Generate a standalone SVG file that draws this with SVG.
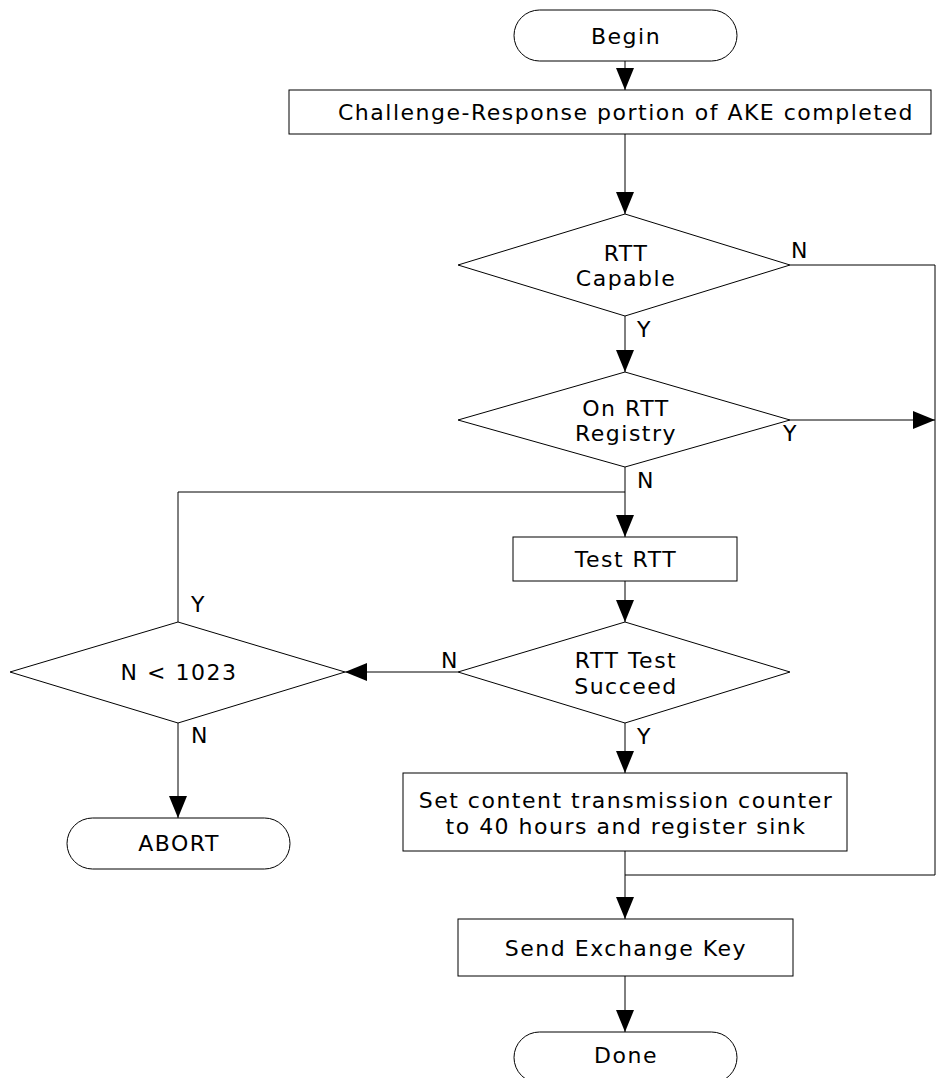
<svg xmlns="http://www.w3.org/2000/svg" width="950" height="1078" viewBox="0 0 950 1078">
<style>
.s{fill:#fff;stroke:#000;stroke-width:1}
.c{fill:none;stroke:#000;stroke-width:1}
text{font-family:"DejaVu Sans",Verdana,sans-serif;font-size:22px;letter-spacing:1.5px;fill:#000}
.m{text-anchor:middle}
</style>
<defs>
<marker id="a" markerUnits="userSpaceOnUse" markerWidth="22" markerHeight="18" refX="22" refY="9" orient="auto">
<path d="M0,0 L22,9 L0,18 Z" fill="#000"/>
</marker>
</defs>
<g id="connectors">
<line class="c" x1="625" y1="61" x2="625" y2="90" marker-end="url(#a)"/>
<line class="c" x1="625" y1="134" x2="625" y2="214" marker-end="url(#a)"/>
<line class="c" x1="625" y1="316" x2="625" y2="372" marker-end="url(#a)"/>
<polyline class="c" points="790,265 935,265 935,875 625,875"/>
<line class="c" x1="790" y1="420" x2="935" y2="420" marker-end="url(#a)"/>
<line class="c" x1="625" y1="467" x2="625" y2="537" marker-end="url(#a)"/>
<polyline class="c" points="178,622 178,492 625,492"/>
<line class="c" x1="625" y1="581" x2="625" y2="622" marker-end="url(#a)"/>
<line class="c" x1="458" y1="672" x2="345" y2="672" marker-end="url(#a)"/>
<line class="c" x1="178" y1="723" x2="178" y2="818" marker-end="url(#a)"/>
<line class="c" x1="625" y1="723" x2="625" y2="773" marker-end="url(#a)"/>
<line class="c" x1="625" y1="851" x2="625" y2="919" marker-end="url(#a)"/>
<line class="c" x1="625" y1="976" x2="625" y2="1032" marker-end="url(#a)"/>
<text x="791" y="258">N</text>
<text x="637" y="337">Y</text>
<text x="783" y="441">Y</text>
<text x="637" y="488">N</text>
<text x="191" y="612">Y</text>
<text x="441" y="668">N</text>
<text x="637" y="744">Y</text>
<text x="191" y="743">N</text>
</g>
<g id="begin"><rect class="s" x="514" y="10" width="223" height="51" rx="25.5"/><text class="m" x="626" y="44">Begin</text></g>
<g id="challenge"><rect class="s" x="289" y="90" width="642" height="44"/><text class="m" x="626" y="120">Challenge-Response portion of AKE completed</text></g>
<g id="rttCapable"><polygon class="s" points="625,214 790,265 625,316 458,265"/><text class="m" x="626" y="261">RTT</text><text class="m" x="626" y="286">Capable</text></g>
<g id="onRegistry"><polygon class="s" points="625,372 790,420 625,467 458,420"/><text class="m" x="626" y="416">On RTT</text><text class="m" x="626" y="441">Registry</text></g>
<g id="testRTT"><rect class="s" x="513" y="537" width="224" height="44"/><text class="m" x="626" y="567">Test RTT</text></g>
<g id="testSucceed"><polygon class="s" points="625,622 790,672 625,723 458,672"/><text class="m" x="626" y="668">RTT Test</text><text class="m" x="626" y="694">Succeed</text></g>
<g id="nLess"><polygon class="s" points="178,622 345,672 178,723 10,672"/><text class="m" x="179" y="680">N &lt; 1023</text></g>
<g id="abort"><rect class="s" x="67" y="818" width="223" height="51" rx="25.5"/><text class="m" x="179" y="851">ABORT</text></g>
<g id="setCounter"><rect class="s" x="403" y="773" width="444" height="78"/><text class="m" x="626" y="808">Set content transmission counter</text><text class="m" x="626" y="834">to 40 hours and register sink</text></g>
<g id="sendKey"><rect class="s" x="458" y="919" width="335" height="57"/><text class="m" x="626" y="956">Send Exchange Key</text></g>
<g id="done"><rect class="s" x="514" y="1032" width="223" height="51" rx="25.5"/><text class="m" x="626" y="1063">Done</text></g>
</svg>
